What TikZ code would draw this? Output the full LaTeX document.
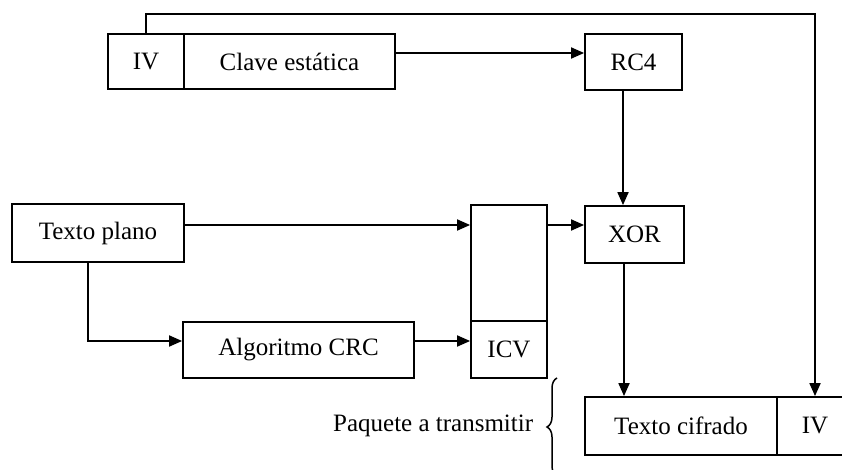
\documentclass[tikz,border=0pt]{standalone}
\usepackage{fontspec}
\setmainfont{Liberation Serif}
\usetikzlibrary{arrows.meta,decorations.pathreplacing}
\begin{document}
\begin{tikzpicture}[x=1pt,y=-1pt,
  line width=1.8pt,
  box/.style={draw, rectangle, inner sep=0pt, font=\fontsize{25}{30}\selectfont},
  arr/.style={-{Triangle[length=13pt,width=11pt]}},
  lbl/.style={inner sep=0pt, font=\fontsize{25}{30}\selectfont}]
\useasboundingbox (0,0) rectangle (842,470);
% top row
\node[box, minimum width=76pt, minimum height=55pt] (iv1) at (146,61.5) {IV};
\node[box, minimum width=211pt, minimum height=55pt] (clave) at (289.5,61.5) {Clave estática};
\node[box, minimum width=97pt, minimum height=56pt] (rc4) at (633.5,62) {RC4};
% middle row
\node[box, minimum width=172pt, minimum height=58pt] (plano) at (98,233) {Texto plano};
\node[box, minimum width=76pt, minimum height=173pt] (tall) at (509,291.5) {};
\node[box, minimum width=99pt, minimum height=57pt] (xor) at (634.5,234.5) {XOR};
\node[box, minimum width=76pt, minimum height=57pt] (icv) at (509,349.5) {ICV};
% CRC
\node[box, minimum width=231pt, minimum height=56pt] (crc) at (298.5,350) {Algoritmo CRC};
% bottom row
\node[box, minimum width=192pt, minimum height=58pt] (cifrado) at (681,426) {Texto cifrado};
\node[box, minimum width=76pt, minimum height=58pt] (iv2) at (815,426) {IV};
% label and brace
\node[lbl, anchor=east] (paquete) at (534,426) {Paquete a transmitir};
\coordinate (braceBot) at (557,476);
\coordinate (braceTop) at (557,378);
\draw[line width=1.5pt, decorate, decoration={brace, amplitude=10pt}] (braceBot) -- (braceTop);
% connectors
\draw[arr] (iv1.north) -- ++(0,-19) -| (iv2.north);
\draw[arr] ([yshift=8.5pt]clave.east) -- ([yshift=8.5pt]clave.east -| rc4.west);
\draw[arr] ([xshift=-10.5pt]rc4.south) -- ([xshift=-10.5pt]rc4.south |- xor.north);
\draw[arr] ([yshift=8pt]plano.east) -- ([yshift=8pt]plano.east -| tall.west);
\draw[arr] ([yshift=8pt]plano.east -| tall.east) -- ([yshift=8pt]plano.east -| xor.west);
\draw[arr] ([xshift=-10pt]plano.south) |- ([yshift=9pt]crc.west);
\draw[arr] ([yshift=9pt]crc.east) -- ([yshift=9pt]crc.east -| tall.west);
\draw[arr] ([xshift=-10.5pt]xor.south) -- ([xshift=-10.5pt]xor.south |- cifrado.north);
\end{tikzpicture}
\end{document}
